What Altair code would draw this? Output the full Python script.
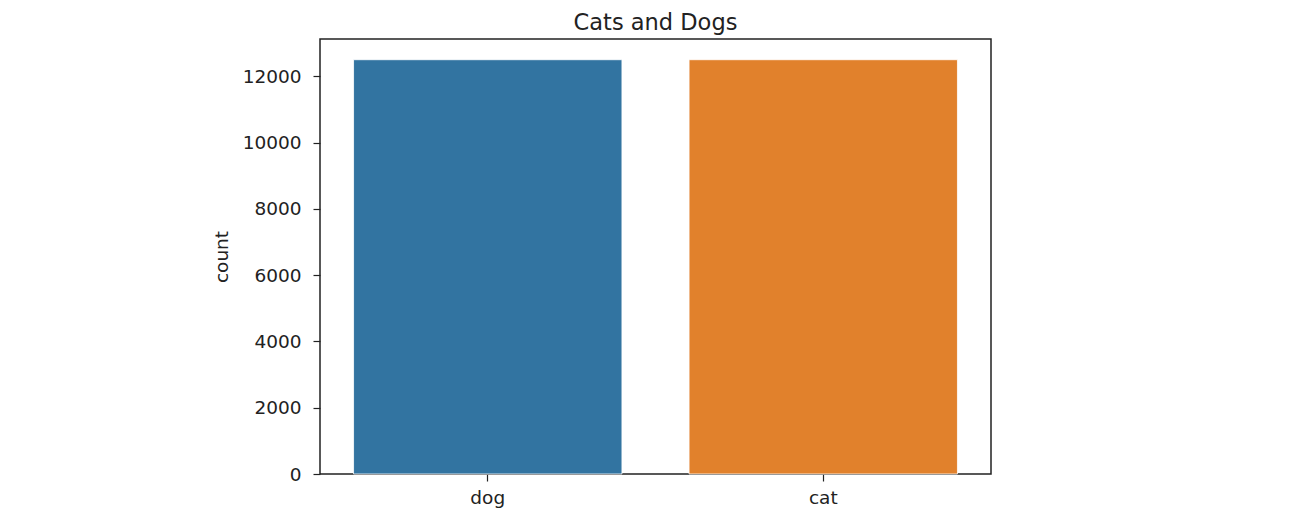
import altair as alt
import pandas as pd

categories = ["dog", "cat"]
counts = [12500, 12500]
colors = ["#3274a1", "#e1812c"]
y_ticks = [0, 2000, 4000, 6000, 8000, 10000, 12000]

df = pd.DataFrame({"label": categories, "count": counts})

FONT = "DejaVu Sans"

chart = alt.Chart(df).mark_bar(stroke="white", strokeWidth=0.8).encode(
    x=alt.X("label:N", sort=categories, title=None,
            scale=alt.Scale(paddingInner=0.2, paddingOuter=0.1),
            axis=alt.Axis(labelAngle=0, labelFont=FONT, labelFontSize=18.5, labelColor="#222",
                          tickSize=7, tickColor="#222", tickWidth=1.2, labelPadding=7,
                          domain=False, grid=False)),
    y=alt.Y("count:Q", title="count",
            scale=alt.Scale(domain=[0, 13125], nice=False, zero=True),
            axis=alt.Axis(values=y_ticks, format="d", labelFont=FONT, labelFontSize=18.5,
                          labelColor="#222",
                          tickSize=7, tickColor="#222", tickWidth=1.2, labelPadding=12,
                          titleFont=FONT, titleFontSize=18.5, titleFontWeight="normal",
                          titleColor="#222", titlePadding=11,
                          domain=False, grid=False)),
    color=alt.Color("label:N", scale=alt.Scale(domain=categories, range=colors), legend=None),
).properties(
    width=671,
    height=435,
    title=alt.TitleParams("Cats and Dogs", font=FONT, fontSize=22.5, fontWeight="normal",
                          color="#222", offset=5, anchor="middle"),
    padding={"left": 312, "top": 31, "right": 10, "bottom": 36},
    autosize=alt.AutoSizeParams(type="none"),
).configure(
    background="white"
).configure_view(
    stroke="#222", strokeWidth=1.5
)

chart.save("out.html", embed_options={"renderer": "svg", "actions": False})
